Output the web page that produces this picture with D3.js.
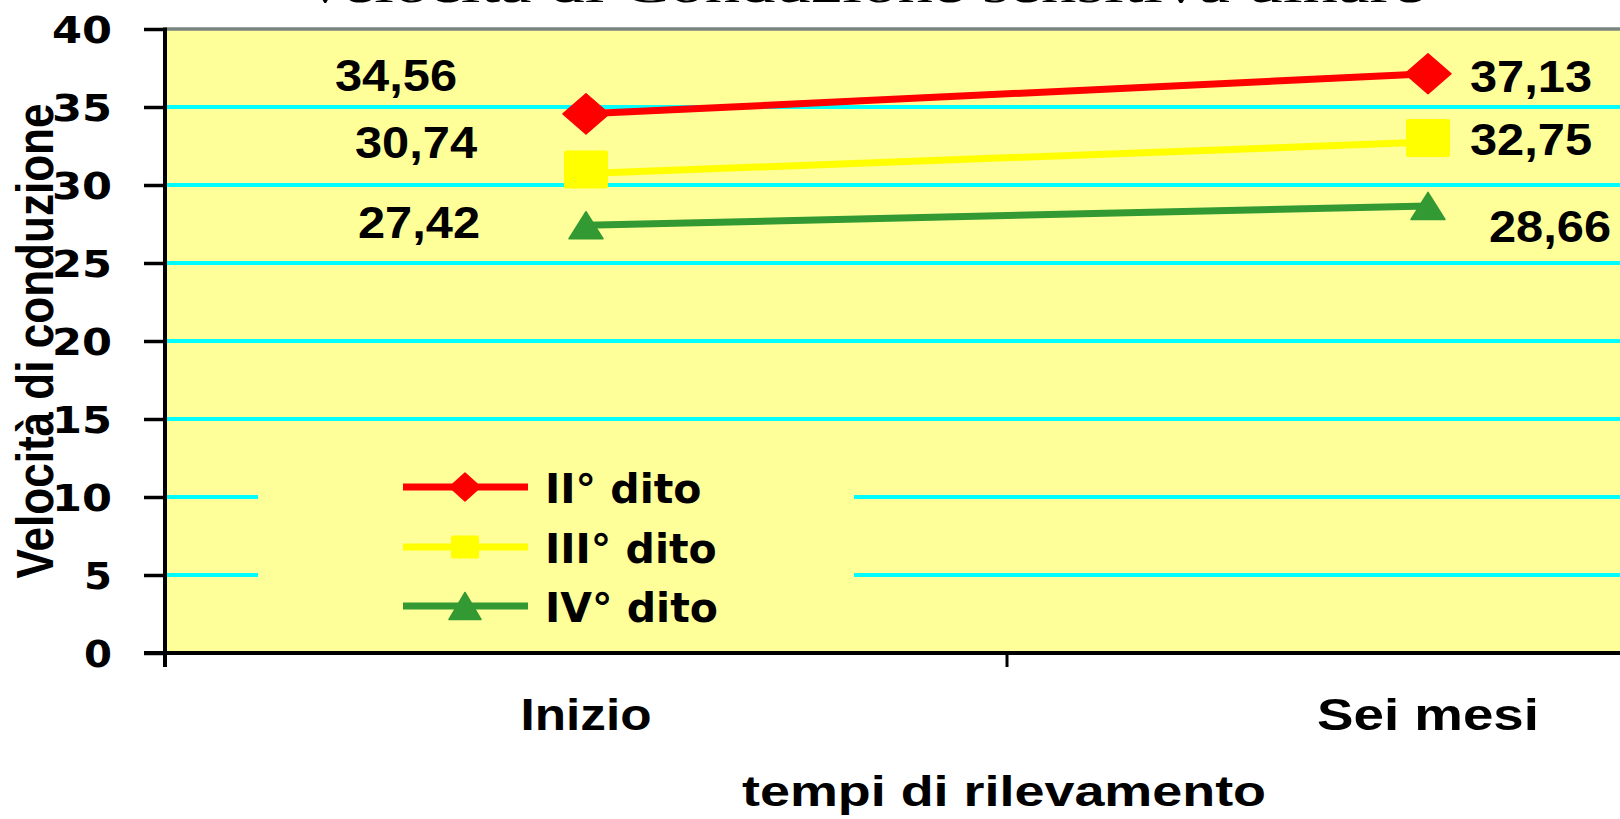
<!DOCTYPE html>
<html><head><meta charset="utf-8">
<script src="https://cdn.jsdelivr.net/npm/d3@7"></script>
<style>html,body{margin:0;padding:0;background:#fff;overflow:hidden}</style>
</head><body><svg id="c" width="1620" height="819"></svg>
<script>
// ---- data ----
const chartTitle = "Velocità di Conduzione sensitiva ulnare";
const categories = ["Inizio", "Sei mesi"];
const seriesNames = ["II° dito", "III° dito", "IV° dito"];
const valuesII = [34.56, 37.13];
const valuesIII = [30.74, 32.75];
const valuesIV = [27.42, 28.66];
const yTickValues = [0, 5, 10, 15, 20, 25, 30, 35, 40];
const yAxisTitle = "Velocità di conduzione";
const xAxisTitle = "tempi di rilevamento";

// ---- styles ----
const styles = [
  {color: "#FF0000", marker: "diamond", labelDx: [-190, 103], labelDy: [-23, 18]},
  {color: "#FFFF00", marker: "square",  labelDx: [-170, 103], labelDy: [-15.5, 13]},
  {color: "#339933", marker: "triangle",labelDx: [-167, 122], labelDy: [13, 36]}
];
const seriesValues = [valuesII, valuesIII, valuesIV];

const W = 1620, H = 819;
const mLeft = 165, mTop = 29, mBottom = 653;
const svg = d3.select("#c");

const x = d3.scaleBand().domain(categories).range([mLeft, mLeft + 2 * 842]);
const cx = c => x(c) + x.bandwidth() / 2;
const y = d3.scaleLinear().domain([0, 40]).range([mBottom, mTop]);

// title (mostly cut off at the top)
svg.append("text").attr("x", 862).attr("y", 2).attr("text-anchor", "middle")
  .attr("font-family", "Liberation Serif").attr("font-size", 50)
  .attr("textLength", 1125).attr("lengthAdjust", "spacingAndGlyphs")
  .attr("fill", "#000").text(chartTitle);

// plot background
svg.append("rect").attr("x", mLeft).attr("y", mTop).attr("width", W - mLeft).attr("height", mBottom - mTop)
  .attr("fill", "#FFFF99");

// gridlines
svg.append("g").selectAll("line").data(yTickValues.filter(v => v > 0 && v < 40)).join("line")
  .attr("x1", mLeft).attr("x2", W).attr("y1", d => y(d)).attr("y2", d => y(d))
  .attr("stroke", "#00FFFF").attr("stroke-width", 4);

// top border
svg.append("line").attr("x1", mLeft).attr("x2", W).attr("y1", y(40)).attr("y2", y(40))
  .attr("stroke", "#7a8580").attr("stroke-width", 3.5);

// series lines & markers
function markerPath(type, w, h) {
  if (type === "diamond") return `M0,${-h/2}L${w/2},0L0,${h/2}L${-w/2},0Z`;
  if (type === "triangle") return `M0,${-h/2}L${w/2},${h/2}L${-w/2},${h/2}Z`;
  return null;
}
function drawMarker(g, type, px, py, big) {
  if (type === "square") {
    const w = big ? 44 : 28, h = big ? 38 : 23;
    g.append("rect").attr("x", px - w/2).attr("y", py - h/2 - (big ? 4 : 0)).attr("width", w).attr("height", h)
      .attr("rx", 2).attr("fill", styles[1].color);
  } else if (type === "diamond") {
    g.append("path").attr("d", markerPath("diamond", big ? 46 : 31, big ? 40 : 28))
      .attr("transform", `translate(${px},${py})`).attr("fill", styles[0].color)
      .attr("stroke", styles[0].color).attr("stroke-linejoin", "round").attr("stroke-width", 1.5);
  } else {
    g.append("path").attr("d", markerPath("triangle", big ? 34 : 32, 27))
      .attr("transform", `translate(${px},${py})`).attr("fill", styles[2].color)
      .attr("stroke", styles[2].color).attr("stroke-linejoin", "round").attr("stroke-width", 1.5);
  }
}

const lineGen = d3.line().x((d, i) => cx(categories[i])).y(d => y(d));
const fmt = v => d3.format(".2f")(v).replace(".", ",");

seriesValues.forEach((vals, s) => {
  const st = styles[s];
  const g = svg.append("g");
  g.append("path").datum(vals).attr("d", lineGen).attr("fill", "none")
    .attr("stroke", st.color).attr("stroke-width", 7);
  vals.forEach((v, i) => drawMarker(g, st.marker, cx(categories[i]), y(v), true));
  g.selectAll("text.lbl").data(vals).join("text").attr("class", "lbl")
    .attr("x", (d, i) => cx(categories[i]) + st.labelDx[i])
    .attr("y", (d, i) => y(d) + st.labelDy[i])
    .attr("text-anchor", "middle")
    .attr("font-family", "Liberation Sans, Arial, sans-serif").attr("font-weight", "bold")
    .attr("font-size", 44).attr("textLength", 122).attr("lengthAdjust", "spacingAndGlyphs")
    .attr("fill", "#000").text(d => fmt(d));
});

// legend
const lg = svg.append("g");
lg.append("rect").attr("x", 258).attr("y", 448).attr("width", 596).attr("height", 192).attr("fill", "#FFFF99");
const legendY = [487, 547, 606];
seriesNames.forEach((name, s) => {
  const st = styles[s];
  lg.append("line").attr("x1", 403).attr("x2", 528).attr("y1", legendY[s]).attr("y2", legendY[s])
    .attr("stroke", st.color).attr("stroke-width", 7);
  drawMarker(lg, st.marker, 465, legendY[s], false);
  lg.append("text").attr("x", 545).attr("y", legendY[s] + 15.5)
    .attr("font-family", "DejaVu Sans").attr("font-weight", "bold").attr("font-size", 41)
    .attr("fill", "#000").text(name);
});

// y axis
const yAxis = svg.append("g").attr("transform", `translate(${mLeft},0)`)
  .call(d3.axisLeft(y).tickValues(yTickValues).tickSize(21).tickPadding(32).tickFormat(d3.format("d")));
yAxis.select(".domain").remove();
yAxis.selectAll(".tick line").attr("stroke", "#000").attr("stroke-width", 3.5);
yAxis.selectAll(".tick text")
  .attr("font-family", "DejaVu Sans, sans-serif").attr("font-weight", "bold").attr("font-size", 37)
  .attr("dy", "0.36em").attr("fill", "#000")
  .attr("textLength", d => String(d).length > 1 ? 60 : 28).attr("lengthAdjust", "spacingAndGlyphs");
svg.append("line").attr("x1", mLeft).attr("x2", mLeft).attr("y1", mTop - 1.5).attr("y2", mBottom + 14)
  .attr("stroke", "#000").attr("stroke-width", 4);

// x axis
const xAxis = svg.append("g").attr("transform", `translate(0,${mBottom})`)
  .call(d3.axisBottom(x).tickSize(0));
xAxis.select(".domain").remove();
xAxis.selectAll(".tick text").attr("y", 77).attr("dy", 0)
  .attr("font-family", "Liberation Sans, Arial, sans-serif").attr("font-weight", "bold")
  .attr("font-size", 44).attr("fill", "#000")
  .attr("textLength", d => d === "Inizio" ? 131 : 222).attr("lengthAdjust", "spacingAndGlyphs");
svg.append("g").selectAll("line").data(categories).join("line")
  .attr("x1", d => x(d)).attr("x2", d => x(d)).attr("y1", mBottom).attr("y2", mBottom + 14)
  .attr("stroke", "#000").attr("stroke-width", 3);
svg.append("line").attr("x1", mLeft - 21).attr("x2", W).attr("y1", mBottom).attr("y2", mBottom)
  .attr("stroke", "#000").attr("stroke-width", 4);

// axis titles
svg.append("text").attr("transform", `translate(53,341) rotate(-90)`).attr("text-anchor", "middle")
  .attr("font-family", "Liberation Sans, Arial, sans-serif").attr("font-weight", "bold")
  .attr("font-size", 52).attr("textLength", 475).attr("lengthAdjust", "spacingAndGlyphs")
  .attr("fill", "#000").text(yAxisTitle);
svg.append("text").attr("x", 1004).attr("y", 806).attr("text-anchor", "middle")
  .attr("font-family", "Liberation Sans, Arial, sans-serif").attr("font-weight", "bold")
  .attr("font-size", 42).attr("textLength", 524).attr("lengthAdjust", "spacingAndGlyphs")
  .attr("fill", "#000").text(xAxisTitle);
</script></body></html>
